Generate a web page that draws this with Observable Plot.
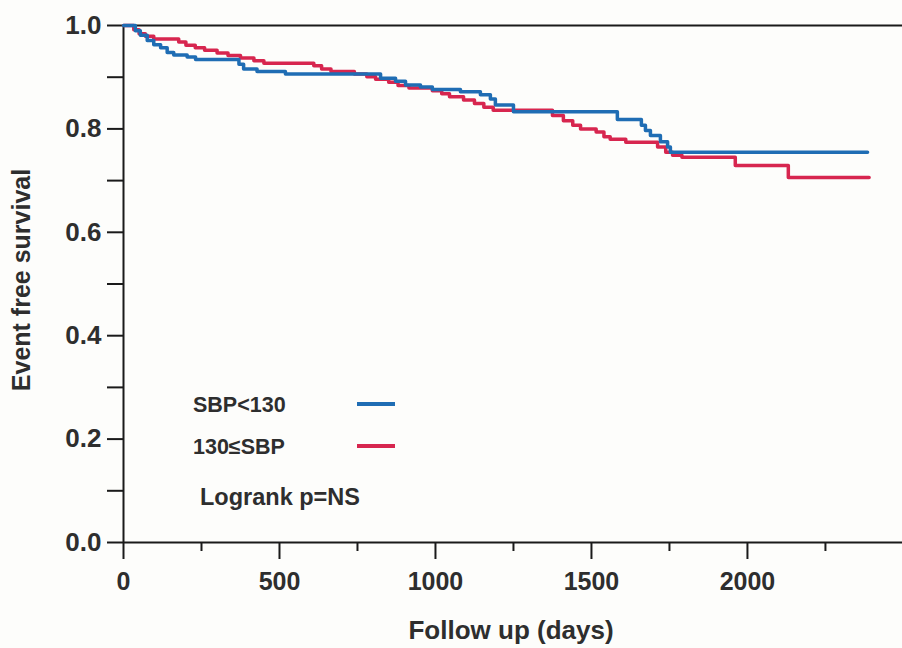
<!DOCTYPE html>
<html><head><meta charset="utf-8">
<script src="https://cdn.jsdelivr.net/npm/d3@7"></script>
<script src="https://cdn.jsdelivr.net/npm/@observablehq/plot@0.6"></script>
<style>
html,body{margin:0;padding:0;background:#fdfdfb;}
#wrap{position:relative;width:902px;height:648px;overflow:hidden;font-family:"Liberation Sans",Arial,sans-serif;}
.lg{position:absolute;font-weight:bold;color:#2e2e2e;white-space:nowrap;line-height:24px;}
.sw{position:absolute;height:4px;}
</style></head><body><div id="wrap"></div>
<script>
// Kaplan-Meier step points (day, survival after the step)
const groups = ["SBP<130", "130≤SBP"];
const colors = ["#1f6db4", "#d7264f"];

const blueDays = [0, 33, 38, 54, 76, 97, 119, 140, 161, 204, 231, 370, 385, 428, 519, 824, 872, 904, 952, 990, 1080, 1144, 1176, 1192, 1250, 1583, 1660, 1673, 1689, 1721, 1744, 1753, 2385];
const blueSurv = [1.0, 1.0, 0.990, 0.981, 0.971, 0.963, 0.957, 0.948, 0.943, 0.939, 0.934, 0.925, 0.916, 0.911, 0.906, 0.898, 0.892, 0.885, 0.881, 0.876, 0.872, 0.866, 0.858, 0.846, 0.833, 0.818, 0.807, 0.797, 0.787, 0.775, 0.765, 0.755, 0.755];

const redDays = [0, 33, 50, 70, 97, 177, 200, 230, 260, 300, 335, 375, 418, 450, 610, 635, 665, 740, 780, 808, 850, 880, 915, 990, 1020, 1045, 1090, 1125, 1155, 1185, 1375, 1410, 1440, 1465, 1515, 1540, 1560, 1610, 1712, 1738, 1760, 1790, 1961, 2131, 2390];
const redSurv = [1.0, 0.992, 0.984, 0.979, 0.974, 0.968, 0.962, 0.957, 0.952, 0.947, 0.942, 0.937, 0.932, 0.927, 0.922, 0.916, 0.911, 0.906, 0.901, 0.896, 0.890, 0.884, 0.879, 0.874, 0.868, 0.862, 0.856, 0.849, 0.842, 0.836, 0.826, 0.816, 0.807, 0.800, 0.794, 0.785, 0.780, 0.774, 0.765, 0.755, 0.749, 0.745, 0.729, 0.706, 0.706];

const xMajorTicks = [0, 500, 1000, 1500, 2000];
const xMajorLabels = ["0", "500", "1000", "1500", "2000"];
const xMinorTicks = [250, 750, 1250, 1750, 2250];
const yMajorTicks = [0, 0.2, 0.4, 0.6, 0.8, 1.0];
const yMajorLabels = ["0.0", "0.2", "0.4", "0.6", "0.8", "1.0"];
const yMinorTicks = [0.1, 0.3, 0.5, 0.7, 0.9];
const xTitle = "Follow up (days)";
const yTitle = "Event free survival";
const note = "Logrank p=NS";

const rows = [];
blueDays.forEach((d, i) => rows.push({group: groups[0], day: d, surv: blueSurv[i]}));
redDays.forEach((d, i) => rows.push({group: groups[1], day: d, surv: redSurv[i]}));

const ink = "#2e2e2e";
const plot = Plot.plot({
  width: 902, height: 648,
  marginLeft: 123, marginRight: 0, marginTop: 25, marginBottom: 106,
  x: {domain: [0, 2497]},
  y: {domain: [0, 1]},
  color: {domain: groups, range: colors},
  style: "background:transparent;font-family:'Liberation Sans',Arial,sans-serif;font-weight:bold;color:" + ink + ";overflow:visible;",
  marks: [
    Plot.ruleY([1], {stroke: "#1a1a1a", strokeWidth: 2}),
    Plot.ruleY([0], {stroke: "#1a1a1a", strokeWidth: 2}),
    Plot.ruleX([0], {stroke: "#1a1a1a", strokeWidth: 2}),
    Plot.axisY(yMajorTicks, {tickSize: 16, tickPadding: 6, tickFormat: (d, i) => yMajorLabels[i], fontSize: 26, fontWeight: "bold", label: null, stroke: "#1a1a1a", strokeWidth: 2, fill: ink}),
    Plot.axisY(yMinorTicks, {tickSize: 16, tickFormat: () => "", label: null, stroke: "#1a1a1a", strokeWidth: 2}),
    Plot.axisX(xMajorTicks, {tickSize: 17, tickPadding: 13, tickFormat: (d, i) => xMajorLabels[i], fontSize: 25, fontWeight: "bold", label: null, stroke: "#1a1a1a", strokeWidth: 2, fill: ink}),
    Plot.axisX(xMinorTicks, {tickSize: 9, tickFormat: () => "", label: null, stroke: "#1a1a1a", strokeWidth: 2}),
    Plot.text([yTitle], {frameAnchor: "left", textAnchor: "middle", rotate: -90, dx: -102, dy: -4, fontSize: 25, fontWeight: "bold", fill: ink}),
    Plot.text([xTitle], {frameAnchor: "bottom", textAnchor: "middle", dy: 96, dx: -2, fontSize: 26, fontWeight: "bold", fill: ink}),
    Plot.line(rows.filter(r => r.group === groups[1]), {x: "day", y: "surv", stroke: "group", curve: "step-after", strokeWidth: 3.5}),
    Plot.line(rows.filter(r => r.group === groups[0]), {x: "day", y: "surv", stroke: "group", curve: "step-after", strokeWidth: 3.5})
  ]
});
const wrap = document.getElementById("wrap");
wrap.appendChild(plot);

// legend
const legendTop = [393, 435];
groups.forEach((g, i) => {
  const t = document.createElement("div");
  t.className = "lg"; t.textContent = g;
  t.style.left = "193px"; t.style.top = legendTop[i] + "px"; t.style.fontSize = "21.5px";
  wrap.appendChild(t);
  const s = document.createElement("div");
  s.className = "sw"; s.style.left = "357px"; s.style.width = "38px";
  s.style.top = (legendTop[i] + 9) + "px"; s.style.background = colors[i];
  wrap.appendChild(s);
});
const n = document.createElement("div");
n.className = "lg"; n.textContent = note;
n.style.left = "200px"; n.style.top = "485px"; n.style.fontSize = "23.5px";
wrap.appendChild(n);
</script>
</body></html>
